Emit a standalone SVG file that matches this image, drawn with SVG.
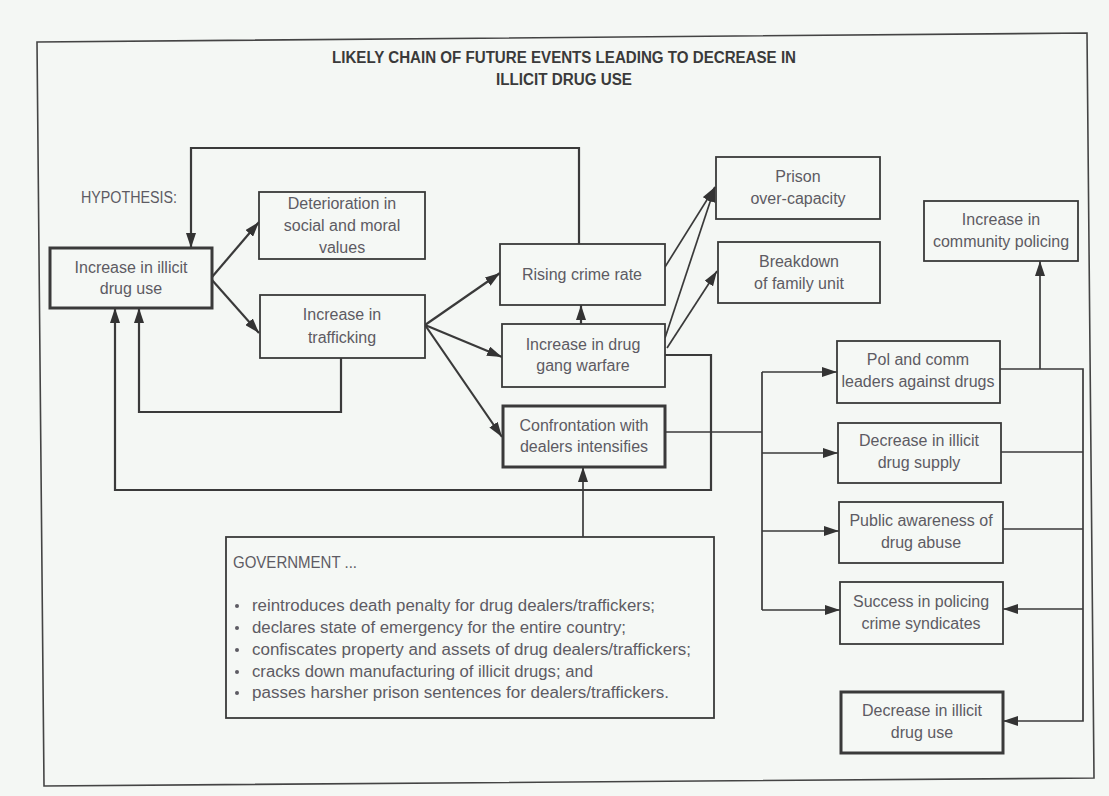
<svg xmlns="http://www.w3.org/2000/svg" width="1109" height="796" viewBox="0 0 1109 796">
<style>
.box{fill:#f5f8f5;stroke:#3a3a3a;stroke-width:1.8}
.thick{stroke-width:3}
.t{font-family:"Liberation Sans",Arial,sans-serif;font-size:16px;fill:#5d5b63;text-anchor:middle}
.g{font-family:"Liberation Sans",Arial,sans-serif;font-size:16px;fill:#5d5b63}
.title{font-family:"Liberation Sans",Arial,sans-serif;font-size:16px;font-weight:bold;fill:#3a3a3a;text-anchor:middle}
.c{fill:none;stroke:#3a3a3a;stroke-width:2.2}
.c2{fill:none;stroke:#3a3a3a;stroke-width:1.7}
</style>
<defs>
<marker id="ah" markerUnits="userSpaceOnUse" markerWidth="15" markerHeight="10" refX="15" refY="5" orient="auto">
<path d="M0,0 L15,5 L0,10 z" fill="#333"/>
</marker>
</defs>
<rect width="1109" height="796" fill="#f4f7f4"/>
<polygon points="37,42 1087,33 1094,778 44,786" fill="none" stroke="#444" stroke-width="1.6"/>
<g id="title">
<text class="title" x="564" y="63" textLength="464" lengthAdjust="spacingAndGlyphs">LIKELY CHAIN OF FUTURE EVENTS LEADING TO DECREASE IN</text>
<text class="title" x="564" y="85" textLength="136" lengthAdjust="spacingAndGlyphs">ILLICIT DRUG USE</text>
</g>
<g id="hypothesis"><text class="g" x="81" y="203" textLength="96" lengthAdjust="spacingAndGlyphs">HYPOTHESIS:</text></g>

<g id="connectors">
<path class="c" d="M579,244 V148 H191 V248" marker-end="url(#ah)"/>
<path class="c" d="M212,277 L259,222" marker-end="url(#ah)"/>
<path class="c" d="M212,280 L259,333" marker-end="url(#ah)"/>
<path class="c" d="M341,358 V412 H139 V308" marker-end="url(#ah)"/>
<path class="c" d="M665,355 H711 V490 H115 V308" marker-end="url(#ah)"/>
<path class="c" d="M425,325 L500,273" marker-end="url(#ah)"/>
<path class="c" d="M425,325 L502,357" marker-end="url(#ah)"/>
<path class="c" d="M425,325 L502,437" marker-end="url(#ah)"/>
<path class="c" d="M581,324 V305" marker-end="url(#ah)"/>
<path class="c2" d="M665,267 L715,187" marker-end="url(#ah)"/>
<path class="c2" d="M665,338 L715,187" marker-end="url(#ah)"/>
<path class="c2" d="M667,348 L717,271" marker-end="url(#ah)"/>
<path class="c2" d="M583,537 V467" marker-end="url(#ah)"/>
<path class="c2" d="M665,432 H762 M762,372 V610"/>
<path class="c2" d="M762,372 H837" marker-end="url(#ah)"/>
<path class="c2" d="M762,453 H838" marker-end="url(#ah)"/>
<path class="c2" d="M762,531 H839" marker-end="url(#ah)"/>
<path class="c2" d="M762,610 H840" marker-end="url(#ah)"/>
<path class="c2" d="M1000,369 H1083 V721 H1003" marker-end="url(#ah)"/>
<path class="c2" d="M1001,452 H1083 M1003,529 H1083"/>
<path class="c2" d="M1083,609 H1003" marker-end="url(#ah)"/>
<path class="c2" d="M1040,369 V261" marker-end="url(#ah)"/>
</g>

<g id="n-increase-use">
<rect class="box thick" x="50" y="248" width="162" height="60"/>
<text class="t" x="131" y="273">Increase in illicit</text>
<text class="t" x="131" y="294">drug use</text>
</g>
<g id="n-deterioration">
<rect class="box" x="259" y="192" width="166" height="67"/>
<text class="t" x="342" y="209">Deterioration in</text>
<text class="t" x="342" y="231">social and moral</text>
<text class="t" x="342" y="253">values</text>
</g>
<g id="n-trafficking">
<rect class="box" x="260" y="295" width="165" height="63"/>
<text class="t" x="342" y="320">Increase in</text>
<text class="t" x="342" y="343">trafficking</text>
</g>
<g id="n-rising">
<rect class="box" x="500" y="244" width="165" height="61"/>
<text class="t" x="582" y="280">Rising crime rate</text>
</g>
<g id="n-gang">
<rect class="box" x="502" y="324" width="163" height="63"/>
<text class="t" x="583" y="350">Increase in drug</text>
<text class="t" x="583" y="371">gang warfare</text>
</g>
<g id="n-confrontation">
<rect class="box thick" x="503" y="406" width="162" height="61"/>
<text class="t" x="584" y="431">Confrontation with</text>
<text class="t" x="584" y="452">dealers intensifies</text>
</g>
<g id="n-prison">
<rect class="box" x="716" y="157" width="164" height="62"/>
<text class="t" x="798" y="182">Prison</text>
<text class="t" x="798" y="204">over-capacity</text>
</g>
<g id="n-breakdown">
<rect class="box" x="718" y="242" width="162" height="61"/>
<text class="t" x="799" y="267">Breakdown</text>
<text class="t" x="799" y="289">of family unit</text>
</g>
<g id="n-community">
<rect class="box" x="924" y="201" width="154" height="60"/>
<text class="t" x="1001" y="225">Increase in</text>
<text class="t" x="1001" y="247">community policing</text>
</g>
<g id="n-pol">
<rect class="box" x="837" y="341" width="163" height="62"/>
<text class="t" x="918" y="365">Pol and comm</text>
<text class="t" x="918" y="387">leaders against drugs</text>
</g>
<g id="n-supply">
<rect class="box" x="838" y="423" width="163" height="60"/>
<text class="t" x="919" y="446">Decrease in illicit</text>
<text class="t" x="919" y="468">drug supply</text>
</g>
<g id="n-awareness">
<rect class="box" x="839" y="502" width="164" height="61"/>
<text class="t" x="921" y="526">Public awareness of</text>
<text class="t" x="921" y="548">drug abuse</text>
</g>
<g id="n-success">
<rect class="box" x="840" y="582" width="163" height="62"/>
<text class="t" x="921" y="607">Success in policing</text>
<text class="t" x="921" y="629">crime syndicates</text>
</g>
<g id="n-decrease-use">
<rect class="box thick" x="841" y="692" width="162" height="61"/>
<text class="t" x="922" y="716">Decrease in illicit</text>
<text class="t" x="922" y="738">drug use</text>
</g>
<g id="n-government">
<rect class="box" x="226" y="537" width="488" height="181"/>
<text class="g" x="233" y="568" textLength="124" lengthAdjust="spacingAndGlyphs">GOVERNMENT ...</text>
<g fill="#5d5b63">
<circle cx="237" cy="606" r="2"/>
<circle cx="237" cy="628" r="2"/>
<circle cx="237" cy="650" r="2"/>
<circle cx="237" cy="672" r="2"/>
<circle cx="237" cy="693" r="2"/>
</g>
<text class="g" x="252" y="611" textLength="403" lengthAdjust="spacingAndGlyphs">reintroduces death penalty for drug dealers/traffickers;</text>
<text class="g" x="252" y="633" textLength="374" lengthAdjust="spacingAndGlyphs">declares state of emergency for the entire country;</text>
<text class="g" x="252" y="655" textLength="439" lengthAdjust="spacingAndGlyphs">confiscates property and assets of drug dealers/traffickers;</text>
<text class="g" x="252" y="677" textLength="341" lengthAdjust="spacingAndGlyphs">cracks down manufacturing of illicit drugs; and</text>
<text class="g" x="252" y="698" textLength="417" lengthAdjust="spacingAndGlyphs">passes harsher prison sentences for dealers/traffickers.</text>
</g>
</svg>
